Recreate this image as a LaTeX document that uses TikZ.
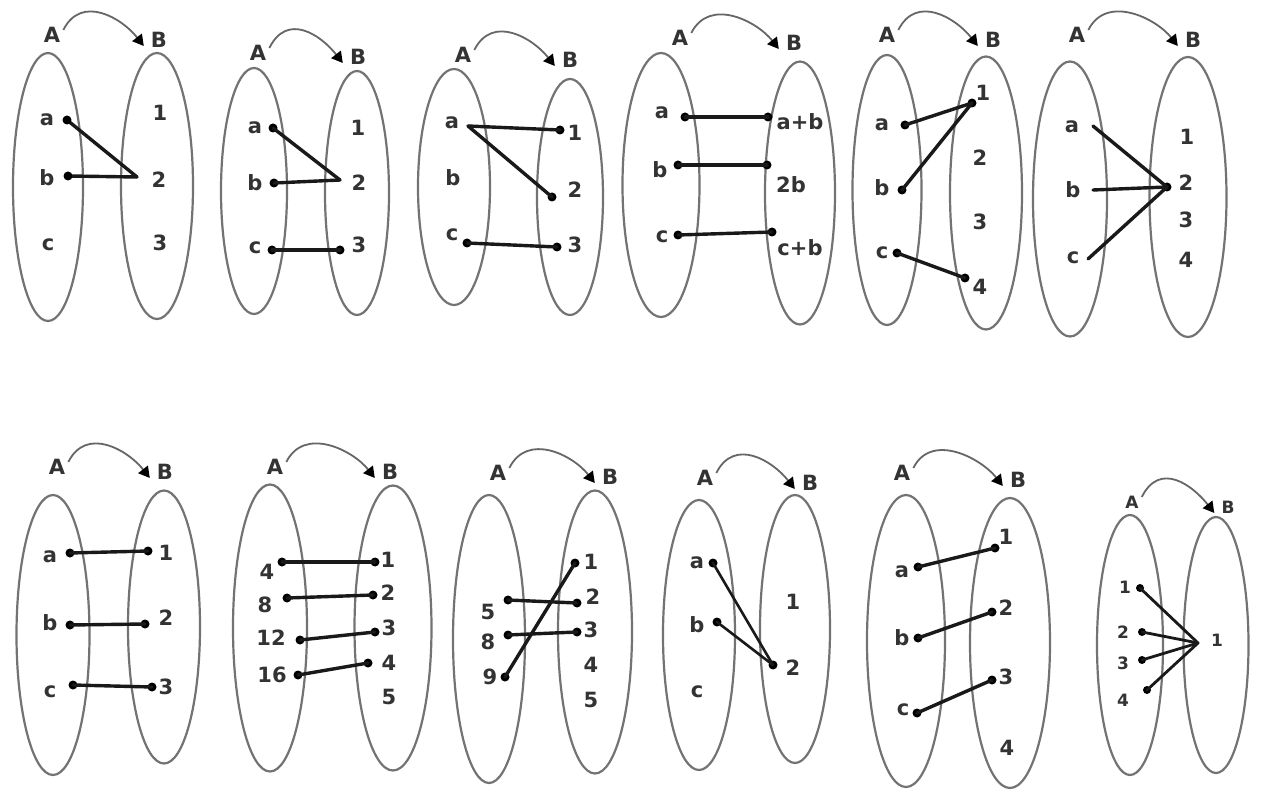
\documentclass[tikz,border=0pt]{standalone}
\usepackage{fontspec}
\usetikzlibrary{shapes.geometric,arrows.meta}
\newfontfamily\dv{DejaVu Sans}
\tikzset{
  setell/.style={draw=black!55, line width=2.2pt, ellipse, inner sep=0pt},
  hdr/.style={font=\dv\bfseries\fontsize{21}{25}\selectfont, inner sep=0pt, text=black!80},
  hdrsm/.style={font=\dv\bfseries\fontsize{17}{20}\selectfont, inner sep=0pt, text=black!80},
  lbl/.style={font=\dv\bfseries\fontsize{21}{25}\selectfont, inner sep=0pt, text=black!80},
  lblsm/.style={font=\dv\bfseries\fontsize{17}{20}\selectfont, inner sep=0pt, text=black!80},
  dotn/.style={circle, fill=black, inner sep=0pt, minimum size=9pt},
  conn/.style={line width=3.4pt, draw=black!90, line join=round, line cap=round},
  arcline/.style={draw=black!60, line width=1.8pt, -{Triangle[length=11pt,width=12pt,color=black]}},
}
\newcommand\phead[4]{%
  \node[#4] (#1A) at (#2) {A};
  \node[#4] (#1B) at (#3) {B};
  \draw[arcline] ([shift={(3pt,5pt)}]#1A.east) .. controls +(18pt,36pt) and +(-22pt,28pt) .. ([shift={(-7pt,-6pt)}]#1B.west);
}
\newcommand\mkset[4]{\node[setell, minimum width=#3pt, minimum height=#4pt] (#1) at (#2) {};}
\newcommand\mklbl[3]{\node[lbl] (#1) at (#2) {#3};}
\newcommand\mkdot[2]{\node[dotn] (#1) at (#2) {};}
\begin{document}
\begin{tikzpicture}[x=1pt,y=-1pt]
\useasboundingbox[fill=white] (0,0) rectangle (1262,794);

% ---------- Panel 1
\phead{p1}{52,35}{159,40}{hdr}
\mkset{p1L}{48,187}{70}{268}
\mkset{p1R}{157,186}{72}{266}
\mklbl{p1la}{47,120}{a}\mklbl{p1lb}{47,178}{b}\mklbl{p1lc}{48,245}{c}
\mklbl{p1l1}{160,113}{1}\mklbl{p1l2}{159,180}{2}\mklbl{p1l3}{160,243}{3}
\coordinate (p1t) at (137,177);
\draw[conn] (67,120) coordinate (p1sa) -- (p1t);
\draw[conn] (68,176) coordinate (p1sb) -- (p1t);
\mkdot{p1da}{p1sa}\mkdot{p1db}{p1sb}

% ---------- Panel 2
\phead{p2}{258,53}{358,57}{hdr}
\mkset{p2L}{254,191}{66}{246}
\mkset{p2R}{357,193}{64}{244}
\mklbl{p2la}{255,128}{a}\mklbl{p2lb}{255,183}{b}\mklbl{p2lc}{255,248}{c}
\mklbl{p2l1}{358,128}{1}\mklbl{p2l2}{359,183}{2}\mklbl{p2l3}{359,245}{3}
\mkdot{p2da}{273,128}\mkdot{p2db}{274,183}\mkdot{p2dc}{272,250}\mkdot{p2d3}{340,250}
\coordinate (p2t) at (340,180);
\draw[conn] (p2da.center) -- (p2t);
\draw[conn] (p2db.center) -- (p2t);
\draw[conn] (p2dc.center) -- (p2d3.center);

% ---------- Panel 3
\phead{p3}{463,55}{570,60}{hdr}
\mkset{p3L}{454,187}{72}{236}
\mkset{p3R}{570,197}{66}{236}
\mklbl{p3la}{452,123}{a}\mklbl{p3lb}{453,178}{b}\mklbl{p3lc}{452,235}{c}
\mklbl{p3l1}{575,133}{1}\mklbl{p3l2}{575,190}{2}\mklbl{p3l3}{575,245}{3}
\coordinate (p3sa) at (468,126);
\mkdot{p3d1}{560,130}\mkdot{p3d2}{552,197}\mkdot{p3dc}{467,243}\mkdot{p3d3}{557,247}
\draw[conn] (p3sa) -- (p3d1.center);
\draw[conn] (p3sa) -- (p3d2.center);
\draw[conn] (p3dc.center) -- (p3d3.center);

% ---------- Panel 4
\phead{p4}{680,38}{794,43}{hdr}
\mkset{p4L}{661,185}{77}{264}
\mkset{p4R}{800,193}{70}{263}
\mklbl{p4la}{662,113}{a}\mklbl{p4lb}{660,170}{b}\mklbl{p4lc}{662,237}{c}
\mklbl{p4l1}{800,122}{a+b}\mklbl{p4l2}{791,185}{2b}\mklbl{p4l3}{800,248}{c+b}
\mkdot{p4da}{685,117}\mkdot{p4d1}{768,117}
\mkdot{p4db}{678,165}\mkdot{p4d2}{767,165}
\mkdot{p4dc}{678,235}\mkdot{p4d3}{772,232}
\draw[conn] (p4da.center) -- (p4d1.center);
\draw[conn] (p4db.center) -- (p4d2.center);
\draw[conn] (p4dc.center) -- (p4d3.center);

% ---------- Panel 5
\phead{p5}{887,35}{993,40}{hdr}
\mkset{p5L}{887,190}{69}{270}
\mkset{p5R}{986,193}{72}{273}
\mklbl{p5la}{882,125}{a}\mklbl{p5lb}{882,188}{b}\mklbl{p5lc}{882,253}{c}
\mklbl{p5l1}{983,93}{1}\mklbl{p5l2}{980,158}{2}\mklbl{p5l3}{980,222}{3}\mklbl{p5l4}{980,287}{4}
\mkdot{p5da}{905,125}\mkdot{p5d1}{972,103}\mkdot{p5db}{902,190}
\mkdot{p5dc}{897,253}\mkdot{p5d4}{965,278}
\draw[conn] (p5da.center) -- (p5d1.center);
\draw[conn] (p5db.center) -- (p5d1.center);
\draw[conn] (p5dc.center) -- (p5d4.center);

% ---------- Panel 6
\phead{p6}{1077,35}{1193,40}{hdr}
\mkset{p6L}{1070,199}{74}{275}
\mkset{p6R}{1188,197}{77}{280}
\mklbl{p6la}{1072,127}{a}\mklbl{p6lb}{1073,190}{b}\mklbl{p6lc}{1073,258}{c}
\mklbl{p6l1}{1187,137}{1}\mklbl{p6l2}{1186,183}{2}\mklbl{p6l3}{1186,220}{3}\mklbl{p6l4}{1186,260}{4}
\coordinate (p6sa) at (1093,126);
\coordinate (p6sb) at (1093,190);
\coordinate (p6sc) at (1088,259);
\mkdot{p6d2}{1167,187}
\draw[conn] (p6sa) -- (p6d2.center);
\draw[conn] (p6sb) -- (p6d2.center);
\draw[conn] (p6sc) -- (p6d2.center);

% ---------- Panel 7
\phead{p7}{57,467}{165,472}{hdr}
\mkset{p7L}{53,635}{73}{280}
\mkset{p7R}{164,627}{72}{273}
\mklbl{p7la}{50,557}{a}\mklbl{p7lb}{50,623}{b}\mklbl{p7lc}{50,692}{c}
\mklbl{p7l1}{166,553}{1}\mklbl{p7l2}{166,618}{2}\mklbl{p7l3}{166,687}{3}
\mkdot{p7da}{70,553}\mkdot{p7d1}{148,551}
\mkdot{p7db}{70,625}\mkdot{p7d2}{145,624}
\mkdot{p7dc}{73,685}\mkdot{p7d3}{152,687}
\draw[conn] (p7da.center) -- (p7d1.center);
\draw[conn] (p7db.center) -- (p7d2.center);
\draw[conn] (p7dc.center) -- (p7d3.center);

% ---------- Panel 8
\phead{p8}{275,467}{390,472}{hdr}
\mkset{p8L}{270,628}{74}{287}
\mkset{p8R}{393,628}{77}{285}
\mklbl{p8l4}{267,572}{4}\mklbl{p8l8}{265,605}{8}\mklbl{p8l12}{271,638}{12}\mklbl{p8l16}{272,675}{16}
\mklbl{p8r1}{388,560}{1}\mklbl{p8r2}{388,593}{2}\mklbl{p8r3}{389,628}{3}\mklbl{p8r4}{389,663}{4}\mklbl{p8r5}{389,697}{5}
\mkdot{p8d4}{282,562}\mkdot{p8e1}{375,562}
\mkdot{p8d8}{287,598}\mkdot{p8e2}{373,595}
\mkdot{p8d12}{300,640}\mkdot{p8e3}{375,632}
\mkdot{p8d16}{298,675}\mkdot{p8e4}{368,663}
\draw[conn] (p8d4.center) -- (p8e1.center);
\draw[conn] (p8d8.center) -- (p8e2.center);
\draw[conn] (p8d12.center) -- (p8e3.center);
\draw[conn] (p8d16.center) -- (p8e4.center);

% ---------- Panel 9
\phead{p9}{498,473}{610,477}{hdr}
\mkset{p9L}{489,639}{72}{288}
\mkset{p9R}{595,632}{74}{283}
\mklbl{p9l5}{488,612}{5}\mklbl{p9l8}{488,642}{8}\mklbl{p9l9}{490,677}{9}
\mklbl{p9r1}{591,562}{1}\mklbl{p9r2}{593,597}{2}\mklbl{p9r3}{591,630}{3}\mklbl{p9r4}{591,665}{4}\mklbl{p9r5}{591,700}{5}
\mkdot{p9d5}{508,600}\mkdot{p9e2}{577,603}
\mkdot{p9d8}{508,635}\mkdot{p9e3}{577,632}
\mkdot{p9d9}{505,677}\mkdot{p9e1}{575,563}
\draw[conn] (p9d5.center) -- (p9e2.center);
\draw[conn] (p9d8.center) -- (p9e3.center);
\draw[conn] (p9d9.center) -- (p9e1.center);

% ---------- Panel 10
\phead{p10}{705,478}{810,483}{hdr}
\mkset{p10L}{699,635}{72}{270}
\mkset{p10R}{795,629}{70}{268}
\mklbl{p10la}{697,563}{a}\mklbl{p10lb}{697,625}{b}\mklbl{p10lc}{697,692}{c}
\mklbl{p10l1}{793,602}{1}\mklbl{p10l2}{793,668}{2}
\mkdot{p10da}{713,563}\mkdot{p10db}{717,622}\mkdot{p10d2}{773,665}
\draw[conn,line width=2.6pt] (p10da.center) -- (p10d2.center);
\draw[conn,line width=2.6pt] (p10db.center) -- (p10d2.center);

% ---------- Panel 11
\phead{p11}{902,473}{1018,480}{hdr}
\mkset{p11L}{906,641}{78}{292}
\mkset{p11R}{1010,643}{80}{290}
\mklbl{p11la}{902,572}{a}\mklbl{p11lb}{902,638}{b}\mklbl{p11lc}{903,710}{c}
\mklbl{p11l1}{1006,537}{1}\mklbl{p11l2}{1006,608}{2}\mklbl{p11l3}{1006,677}{3}\mklbl{p11l4}{1007,748}{4}
\mkdot{p11da}{918,567}\mkdot{p11d1}{995,548}
\mkdot{p11db}{918,638}\mkdot{p11d2}{992,612}
\mkdot{p11dc}{917,713}\mkdot{p11d3}{992,680}
\draw[conn] (p11da.center) -- (p11d1.center);
\draw[conn] (p11db.center) -- (p11d2.center);
\draw[conn] (p11dc.center) -- (p11d3.center);

% ---------- Panel 12
\phead{p12}{1132,502}{1228,507}{hdrsm}
\mkset{p12L}{1130,645}{66}{260}
\mkset{p12R}{1216,645}{65}{256}
\node[lblsm] (p12l1) at (1125,587) {1};
\node[lblsm] (p12l2) at (1123,632) {2};
\node[lblsm] (p12l3) at (1123,663) {3};
\node[lblsm] (p12l4) at (1123,700) {4};
\node[lblsm] (p12r1) at (1217,640) {1};
\node[dotn,minimum size=8pt] (p12d1) at (1140,588) {};
\node[dotn,minimum size=8pt] (p12d2) at (1142,632) {};
\node[dotn,minimum size=8pt] (p12d3) at (1142,660) {};
\node[dotn,minimum size=8pt] (p12d4) at (1147,690) {};
\coordinate (p12t) at (1198,643);
\draw[conn,line width=2.8pt] (p12d1.center) -- (p12t);
\draw[conn,line width=2.8pt] (p12d2.center) -- (p12t);
\draw[conn,line width=2.8pt] (p12d3.center) -- (p12t);
\draw[conn,line width=2.8pt] (p12d4.center) -- (p12t);
\end{tikzpicture}
\end{document}
